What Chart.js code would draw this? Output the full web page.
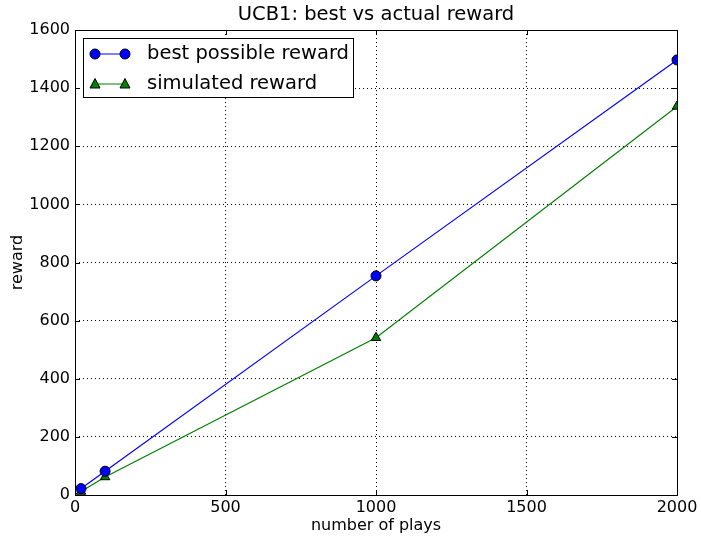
<!DOCTYPE html>
<html><head><meta charset="utf-8">
<script src="https://cdn.jsdelivr.net/npm/chart.js@4.4.1/dist/chart.umd.min.js"></script>
<style>html,body{margin:0;padding:0;background:#fff}#wrap{width:701px;height:540px}</style>
</head><body><div id="wrap"><canvas id="c" width="701" height="540"></canvas></div>
<script>
const plays = [20, 100, 1000, 2000];
const bestReward = [22, 82, 754, 1497];
const simulatedReward = [12, 62, 541, 1337];
const seriesNames = ['best possible reward', 'simulated reward'];
const chartTitle = 'UCB1: best vs actual reward';
const xTicks = [0, 500, 1000, 1500, 2000];
const yTicks = [0, 200, 400, 600, 800, 1000, 1200, 1400, 1600];
const FONT = "'DejaVu Sans'";

const frameAndLegend = {
  id: 'frameAndLegend',
  afterDraw(chart) {
    const ctx = chart.ctx, a = chart.chartArea;
    const xs = chart.scales.x, ys = chart.scales.y;
    ctx.save();
    // title centered over plot area
    ctx.fillStyle = '#000'; ctx.font = '19.5px ' + FONT;
    ctx.textAlign = 'center'; ctx.textBaseline = 'middle';
    ctx.fillText(chartTitle, (a.left + a.right) / 2, 15);
    ctx.strokeStyle = '#000'; ctx.lineWidth = 1;
    const tl = 5;
    ctx.beginPath();
    xTicks.forEach(v => { const p = Math.round(xs.getPixelForValue(v)) + 0.5;
      ctx.moveTo(p, a.bottom); ctx.lineTo(p, a.bottom - tl);
      ctx.moveTo(p, a.top); ctx.lineTo(p, a.top + tl); });
    yTicks.forEach(v => { const p = Math.round(ys.getPixelForValue(v)) + 0.5;
      ctx.moveTo(a.left, p); ctx.lineTo(a.left + tl, p);
      ctx.moveTo(a.right, p); ctx.lineTo(a.right - tl, p); });
    ctx.stroke();
    ctx.strokeRect(Math.round(a.left) + 0.5, Math.round(a.top) + 0.5, Math.round(a.right - a.left), Math.round(a.bottom - a.top));
    const bx = 83.5, by = 38.5, bw = 270, bh = 59;
    ctx.fillStyle = '#fff'; ctx.fillRect(bx, by, bw, bh);
    ctx.strokeRect(bx, by, bw, bh);
    const ds = chart.data.datasets;
    const rows = [54, 84];
    ds.forEach((d, i) => {
      const y = rows[i];
      ctx.strokeStyle = d.borderColor; ctx.lineWidth = 1;
      ctx.beginPath(); ctx.moveTo(95, y); ctx.lineTo(125, y); ctx.stroke();
      [95, 125].forEach(x => {
        ctx.fillStyle = d.pointBackgroundColor; ctx.strokeStyle = '#000';
        ctx.beginPath();
        if (d.pointStyle === 'circle') { ctx.arc(x, y, 5, 0, Math.PI * 2); }
        else { ctx.moveTo(x, y - 5.5); ctx.lineTo(x + 5, y + 4); ctx.lineTo(x - 5, y + 4); ctx.closePath(); }
        ctx.fill(); ctx.stroke();
      });
      ctx.fillStyle = '#000'; ctx.font = '19.5px ' + FONT;
      ctx.textBaseline = 'middle'; ctx.textAlign = 'left';
      ctx.fillText(d.label, 147, y);
    });
    ctx.restore();
  }
};

new Chart(document.getElementById('c'), {
  type: 'line',
  data: {
    datasets: [
      { label: seriesNames[0], data: plays.map((x, i) => ({x, y: bestReward[i]})),
        borderColor: '#0000ff', backgroundColor: '#0000ff', pointBackgroundColor: '#0000ff',
        pointBorderColor: '#000', pointBorderWidth: 1, pointRadius: 5, pointStyle: 'circle',
        borderWidth: 1.2, tension: 0, fill: false },
      { label: seriesNames[1], data: plays.map((x, i) => ({x, y: simulatedReward[i]})),
        borderColor: '#008000', backgroundColor: '#008000', pointBackgroundColor: '#008000',
        pointBorderColor: '#000', pointBorderWidth: 1, pointRadius: 5.5, pointStyle: 'triangle',
        borderWidth: 1.2, tension: 0, fill: false }
    ]
  },
  options: {
    responsive: false, animation: false, devicePixelRatio: 1,
    layout: { padding: { left: 0, right: 24, top: 30, bottom: 0 } },
    plugins: {
      legend: { display: false }, tooltip: { enabled: false }, title: { display: false }
    },
    scales: {
      x: { type: 'linear', min: 0, max: 2000,
        afterBuildTicks: s => { s.ticks = xTicks.map(v => ({value: v})); },
        afterFit: s => { s.height = 45; },
        ticks: { color: '#000', font: { family: FONT, size: 16 }, padding: 3, maxRotation: 0, callback: v => String(v) },
        grid: { color: '#000', lineWidth: 1, drawTicks: false },
        border: { display: false, dash: [1, 3] },
        title: { display: true, text: 'number of plays', color: '#000', font: { family: FONT, size: 16 }, padding: { top: 2, bottom: 5 } }
      },
      y: { min: 0, max: 1600,
        afterBuildTicks: s => { s.ticks = yTicks.map(v => ({value: v})); },
        afterFit: s => { s.width = 75; },
        ticks: { color: '#000', font: { family: FONT, size: 16 }, padding: 5, callback: v => String(v) },
        grid: { color: '#000', lineWidth: 1, drawTicks: false },
        border: { display: false, dash: [1, 3] },
        title: { display: true, text: 'reward', color: '#000', font: { family: FONT, size: 16 }, padding: { top: 8, bottom: 0 } }
      }
    }
  },
  plugins: [frameAndLegend]
});
</script></body></html>
